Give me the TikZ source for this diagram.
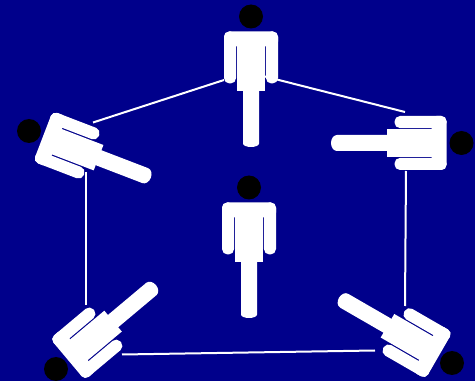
\documentclass[tikz,border=0pt]{standalone}
\definecolor{NavyBack}{RGB}{0,0,139}
\tikzset{
    headdot/.style={draw=none, circle, fill=black, minimum size=24pt, inner sep=0pt},
    link/.style={white, line width=2pt},
    pics/person/.style={code={
        % Arms and shoulders
        \fill[white, rounded corners=5.5pt] (-27,-15) rectangle (-14.9,-67);
        \fill[white, rounded corners=5.5pt] (14.9,-15) rectangle (27,-67);
        \fill[white, rounded corners=5pt] (-27,-15) rectangle (27,-30);
        % Torso and leg
        \fill[white] (-13.6,-20) rectangle (13.6,-74.5);
        \fill[white] (-8,-60) -- (-8,-130.5+#1) arc[x radius=8, y radius=#1, start angle=180, end angle=360] -- (8,-60) -- cycle;
    }}
}
\begin{document}
\begin{tikzpicture}[x=1pt, y=1pt]
    % Background
    \fill[NavyBack] (0,0) rectangle (475,381);
    \useasboundingbox (0,0) rectangle (475,381);

    % Heads
    \node[headdot] (headtop) at (251,364.5) {};
    \node[headdot] (headmid) at (249,193.5) {};
    \node[headdot] (headleft) at (29,250) {};
    \node[headdot] (headright) at (461.5,238) {};
    \node[headdot] (headlowleft) at (56,12) {};
    \node[headdot] (headlowright) at (452,18) {};

    % People
    \pic at (headtop.center) {person=3.5};
    \pic at (headmid.center) {person=3.5};
    \pic[rotate=69] at (headleft.center) {person=6};
    \pic[rotate=-90] at (headright.center) {person=6};
    \pic[rotate=130] at (headlowleft.center) {person=6};
    \pic[rotate=-120] at (headlowright.center) {person=6};

    % Connector ends
    \coordinate (topa) at (224,301);
    \coordinate (lefta) at (93,258.5);
    \coordinate (topb) at (265,304.5);
    \coordinate (righta) at (405,269);
    \coordinate (leftb) at (86,209);
    \coordinate (lowlefta) at (86,76);
    \coordinate (rightb) at (406,210);
    \coordinate (lowrighta) at (405,75);
    \coordinate (lowleftb) at (122,26.5);
    \coordinate (lowrightb) at (375,30.5);

    % Connectors
    \draw[link] (topa) -- (lefta);
    \draw[link] (topb) -- (righta);
    \draw[link] (leftb) -- (lowlefta);
    \draw[link] (rightb) -- (lowrighta);
    \draw[link] (lowleftb) -- (lowrightb);
\end{tikzpicture}
\end{document}
